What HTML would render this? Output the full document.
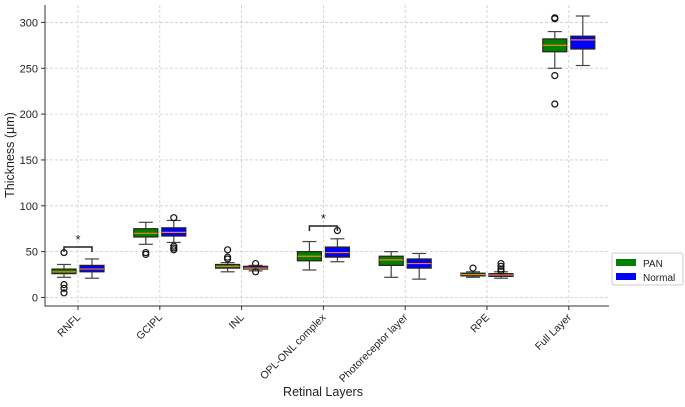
<!DOCTYPE html>
<html><head><meta charset="utf-8"><style>
body{margin:0;background:#fff;font-family:"Liberation Sans","DejaVu Sans",sans-serif;}
svg text{font-family:"Liberation Sans","DejaVu Sans",sans-serif;}
</style></head><body>
<svg id="c" width="685" height="402"></svg>
<script>
const categories=["RNFL","GCIPL","INL","OPL-ONL complex","Photoreceptor layer","RPE","Full Layer"];
const yTicks=[0,50,100,150,200,250,300];
// [whiskerLow, q1, median, q3, whiskerHigh]
const panStats=[[22,26,28,31,36],[58,66,70,75,82],[28,32,34,36,38],[30,40,45,50,61],[22,35,41,45,50],[22,23.5,25,26.5,28],[250,268,275,282,290]];
const normalStats=[[21,28,31,35,42],[60,67,71,76,84],[29,31,32,34,35],[39,44,49,55,64],[20,32,37,42,48],[21,23,24.5,26,28],[253,271,281,285,307]];
const panOutliers=[[5,10,14,49],[47,49],[42,44,52],[],[],[32],[304,305,242,211]];
const normalOutliers=[[],[52,54,56,87],[28,37],[73],[],[29,31,34,37],[]];
const sigBars=[[0,55],[3,78]];
const svg=document.getElementById('c');const NS="http://www.w3.org/2000/svg";
const L=45,R=609,T=5,B=306,yMin=-9.3,yMax=319;
const y=v=>B-(v-yMin)/(yMax-yMin)*(B-T);
const xc=i=>78+i*81.8;
function mk(t,a,p){const e=document.createElementNS(NS,t);for(const k in a)e.setAttribute(k,a[k]);(p||svg).appendChild(e);return e;}
yTicks.forEach(v=>{
 const g=mk('line',{x1:L,x2:R,y1:y(v),y2:y(v),stroke:'#ccc','stroke-dasharray':'3,2','stroke-width':0.8});
 
 mk('line',{x1:L-4,x2:L,y1:y(v),y2:y(v),stroke:'#333'});
 const t=mk('text',{x:L-7,y:y(v)+4,'text-anchor':'end','font-size':11,fill:'#222'});t.textContent=v;
 
});
categories.forEach((c,i)=>{
 const g=mk('line',{x1:xc(i),x2:xc(i),y1:T,y2:B,stroke:'#ccc','stroke-dasharray':'3,2','stroke-width':0.8});
 
 mk('line',{x1:xc(i),x2:xc(i),y1:B,y2:B+4,stroke:'#333'});
 const t=mk('text',{x:xc(i)+3,y:B+12,'text-anchor':'end','font-size':10.5,fill:'#222',transform:`rotate(-45 ${xc(i)+3} ${B+12})`});t.textContent=c;
 
});
function box(i,s,out,off,fill,name){
 const cx=xc(i)+off,w=24;
 const g=mk('g',{});
 mk('line',{x1:cx,x2:cx,y1:y(s[0]),y2:y(s[1]),stroke:'#444','stroke-width':1.2},g);
 mk('line',{x1:cx,x2:cx,y1:y(s[3]),y2:y(s[4]),stroke:'#444','stroke-width':1.2},g);
 mk('line',{x1:cx-7,x2:cx+7,y1:y(s[0]),y2:y(s[0]),stroke:'#444','stroke-width':1.2},g);
 mk('line',{x1:cx-7,x2:cx+7,y1:y(s[4]),y2:y(s[4]),stroke:'#444','stroke-width':1.2},g);
 mk('rect',{x:cx-w/2,y:y(s[3]),width:w,height:Math.max(1,y(s[1])-y(s[3])),fill:fill,stroke:'#222','stroke-width':1.2},g);
 mk('line',{x1:cx-w/2,x2:cx+w/2,y1:y(s[2]),y2:y(s[2]),stroke:'#ff7f0e','stroke-width':1.2},g);
 out.forEach(o=>mk('circle',{cx:cx,cy:y(o),r:3,fill:'none',stroke:'#111','stroke-width':1.2},g));
}
categories.forEach((c,i)=>{box(i,panStats[i],panOutliers[i],-14,'#008000','pan-box');box(i,normalStats[i],normalOutliers[i],14,'#0000ff','normal-box');});
sigBars.forEach(([i,v])=>{
 const g=mk('g',{});
 mk('path',{d:`M${xc(i)-14},${y(v)+5}V${y(v)}H${xc(i)+14}V${y(v)+5}`,fill:'none',stroke:'#222','stroke-width':1.5},g);
 const t=mk('text',{x:xc(i),y:y(v)-3,'text-anchor':'middle','font-size':13,fill:'#222'},g);t.textContent='*';
});
const ax=mk('path',{d:`M${L},${T}V${B}H${R}`,fill:'none',stroke:'#333','stroke-width':1});

let t=mk('text',{x:14,y:155,'text-anchor':'middle','font-size':12.5,fill:'#222',transform:'rotate(-90 14 155)'});t.textContent='Thickness (μm)';

t=mk('text',{x:323,y:396,'text-anchor':'middle','font-size':12.5,fill:'#222'});t.textContent='Retinal Layers';

const lg=mk('g',{});
mk('rect',{x:612,y:253,width:71,height:32,rx:2,fill:'#fff',stroke:'#ccc'},lg);
[['PAN','#008000',263],['Normal','#0000ff',277]].forEach(([n,c,yy])=>{
 const e=mk('g',{},lg);
 mk('rect',{x:616,y:yy-4,width:20,height:7,fill:c},e);
 const tt=mk('text',{x:643,y:yy+4,'font-size':10,fill:'#222'},e);tt.textContent=n;
});
</script>
</body></html>
